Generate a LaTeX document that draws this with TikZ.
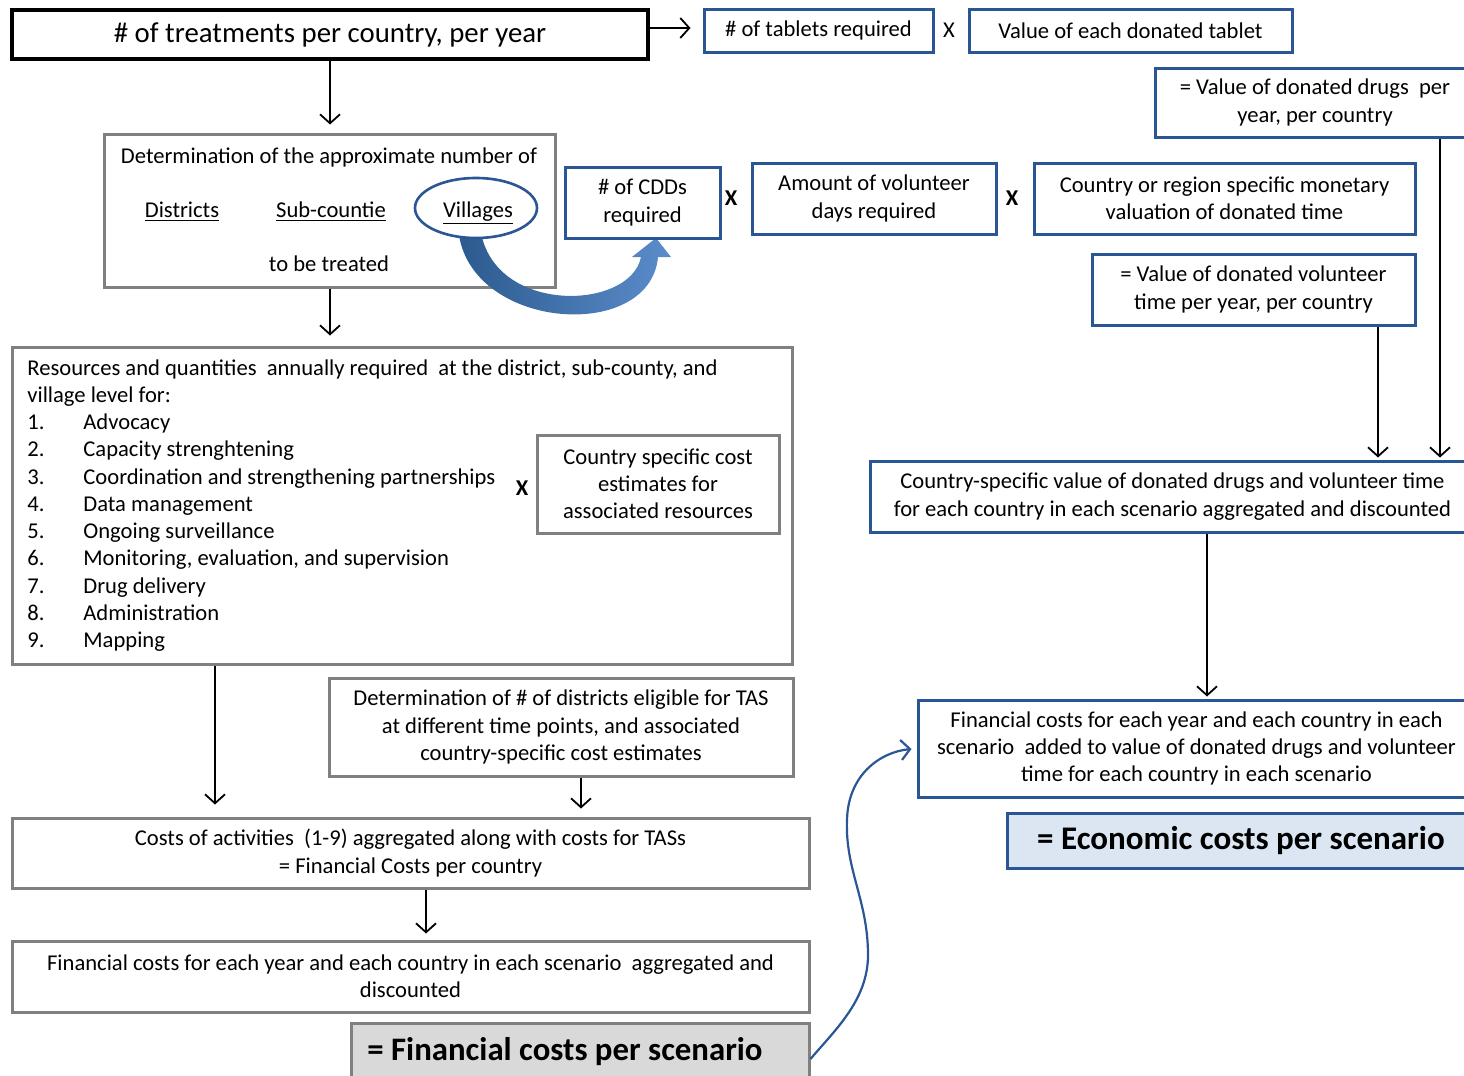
\documentclass[tikz,border=0pt]{standalone}
\usepackage{fontspec}
\setmainfont{Carlito}
\usetikzlibrary{arrows.meta,calc,shapes.geometric}
\definecolor{myblue}{HTML}{2A5696}
\definecolor{mygray}{HTML}{808080}
\definecolor{bandA}{HTML}{2C5A8F}
\definecolor{bandB}{HTML}{5B8DCB}
\definecolor{fpsfill}{HTML}{D9D9D9}
\definecolor{ecofill}{HTML}{DCE6F2}
\newcommand{\bodyf}{\fontsize{11.3}{13.6}\selectfont}
\tikzset{
  basebox/.style={line width=1.5pt, fill=white, inner sep=0pt, align=center, font=\bodyf},
  bluebox/.style={basebox, draw=myblue},
  graybox/.style={basebox, draw=mygray},
  blackbox/.style={basebox, draw=black, line width=1.7pt},
  txt/.style={inner sep=0pt, font=\bodyf},
  arr/.style={-{Straight Barb[length=4.5pt,width=10pt]}, line width=0.9pt},
  curvy/.style={-{Straight Barb[length=4.5pt,width=10pt]}, line width=1.1pt, draw=myblue},
  xmark/.style={inner sep=0pt, font=\bodyf\bfseries}
}
\begin{document}
\begin{tikzpicture}[x=0.5pt,y=-0.5pt]
\useasboundingbox (0,0) rectangle (1464,1076);
\clip (0,0) rectangle (1464,1076);

% top row
\node[blackbox, minimum width=318pt, minimum height=24.5pt, font=\fontsize{14.4}{16}\selectfont] (top) at (330,34.5) {\# of treatments per country, per year};
\node[bluebox, minimum width=114.5pt, minimum height=21.5pt] (tab) at (818.5,30.5) {\# of tablets required};
\node[txt] (x0) at (949,30) {X};
\node[bluebox, minimum width=161.5pt, minimum height=21.5pt] (val) at (1130.5,30.5) {Value of each donated tablet};
\node[bluebox, minimum width=160pt, minimum height=34.5pt] (vdr) at (1315,102.5) {= Value of donated drugs\ \ per\\year, per country};

% determination box
\node[graybox, minimum width=225.5pt, minimum height=76.5pt] (det) at (329.5,210.5) {};
\node[txt, anchor=base] (det1) at (329,163) {Determination of the approximate number of};
\node[txt, anchor=base] (dis) at (182,217) {\underline{Districts}};
\node[txt, anchor=base] (sub) at (331,217) {\underline{Sub-countie}};
\node[txt, anchor=base] (det2) at (329,271) {to be treated};

% big curved arrow
\shade[left color=bandA, right color=bandB] (458,225) .. controls (462,330) and (650,345) .. (658,257) -- (671,257) -- (656,238) -- (632,257) -- (641,257) .. controls (630,312) and (488,315) .. (480,225) -- cycle;
\node[ellipse, draw=myblue, line width=1.3pt, fill=white, minimum width=61pt, minimum height=30pt, inner sep=0pt] (vell) at (476,208) {};
\node[txt, anchor=base] (vil) at (478,217) {\underline{Villages}};

% CDD row
\node[bluebox, minimum width=77.5pt, minimum height=35.5pt] (cdd) at (642.5,202.5) {\# of CDDs\\required};
\node[xmark] (x1) at (731,198) {X};
\node[bluebox, minimum width=122pt, minimum height=35.5pt] (amt) at (874,198.5) {Amount of volunteer\\days required};
\node[xmark] (x2) at (1012,198) {X};
\node[bluebox, minimum width=190.5pt, minimum height=35.5pt] (cty) at (1224.5,198.5) {Country or region specific monetary\\valuation of donated time};
\node[bluebox, minimum width=161.5pt, minimum height=35.5pt] (vvol) at (1253.5,289.5) {= Value of donated volunteer\\time per year, per country};

% resources box
\node[graybox, minimum width=390pt, minimum height=158.5pt] (res) at (402,505.5) {};
\node[txt, anchor=base west] (r0) at (27,375) {Resources and quantities~ annually required~ at the district, sub-county, and};
\node[txt, anchor=base west] (r00) at (27,402) {village level for:};
\foreach \i/\yy/\t in {1/429/Advocacy, 2/456/Capacity strenghtening, 3/484/Coordination and strengthening partnerships, 4/511/Data management, 5/538/Ongoing surveillance, 6/565/{Monitoring, evaluation, and supervision}, 7/593/Drug delivery, 8/620/Administration, 9/647/Mapping}{
  \node[txt, anchor=base west] (n\i) at (27,\yy) {\i.};
  \node[txt, anchor=base west] (it\i) at (83,\yy) {\t};
}
\node[xmark] (x3) at (522,488) {X};
\node[graybox, minimum width=121pt, minimum height=49pt] (cse) at (658,484) {Country specific cost\\estimates for\\associated resources};

% lower left
\node[graybox, minimum width=232pt, minimum height=49pt] (tas) at (561,727) {Determination of \# of districts eligible for TAS\\at different time points, and associated\\country-specific cost estimates};
\node[graybox, minimum width=398.5pt, minimum height=35pt] (coa) at (410.5,853) {Costs of activities\ \ (1-9) aggregated along with costs for TASs\\= Financial Costs per country};
\node[graybox, minimum width=398.5pt, minimum height=35.5pt] (fin) at (410.5,976.5) {Financial costs for each year and each country in each scenario\ \ aggregated and\\discounted};
\node[graybox, fill=fpsfill, minimum width=229pt, minimum height=36pt] (fps) at (580,1059) {};
\node[inner sep=0pt, font=\fontsize{16.4}{19}\selectfont\bfseries] (fpst) at (565,1052) {= Financial costs per scenario};

% right column
\node[bluebox, minimum width=302.5pt, minimum height=35.5pt] (csv) at (1172.5,496.5) {Country-specific value of donated drugs and volunteer time\\for each country in each scenario aggregated and discounted};
\node[bluebox, minimum width=278.5pt, minimum height=48.5pt] (fcy) at (1196.5,748.5) {Financial costs for each year and each country in each\\scenario\ \ added to value of donated drugs and volunteer\\time for each country in each scenario};
\node[bluebox, fill=ecofill, minimum width=234pt, minimum height=27.5pt, font=\fontsize{16.5}{19}\selectfont\bfseries] (eco) at (1241,840.5) {= Economic costs per scenario};

% connectors
\coordinate (ca) at (215,0);
\coordinate (cb) at (581,0);
\coordinate (cc) at (426,0);
\coordinate (cd) at (1440,0);
\coordinate (ce) at (1378,0);
\coordinate (cf) at (1207,0);
\draw[arr, shorten >=6pt] ($(top.east)+(0,-6.5)$) -- ($(tab.west)+(0,-2.5)$);
\draw[arr, shorten >=4pt] (top.south) -- (top.south |- det.north);
\draw[arr, shorten >=5pt] (top.south |- det.south) -- (top.south |- res.north);
\draw[arr, shorten >=6pt] (res.south -| ca) -- (coa.north -| ca);
\draw[arr, shorten >=4pt] (tas.south -| cb) -- (coa.north -| cb);
\draw[arr, shorten >=3pt] (coa.south -| cc) -- (fin.north -| cc);
\draw[arr, shorten >=1pt] (vdr.south -| cd) -- (csv.north -| cd);
\draw[arr, shorten >=1pt] (vvol.south -| ce) -- (csv.north -| ce);
\draw[arr, shorten >=1pt] (csv.south -| cf) -- (fcy.north -| cf);
\draw[curvy, shorten >=2.5pt] (fps.east) .. controls (835,1030) and (868,1000) .. (868,955) .. controls (868,900) and (845,870) .. (847,820) .. controls (848,775) and (880,752) .. (fcy.west);
\end{tikzpicture}
\end{document}
